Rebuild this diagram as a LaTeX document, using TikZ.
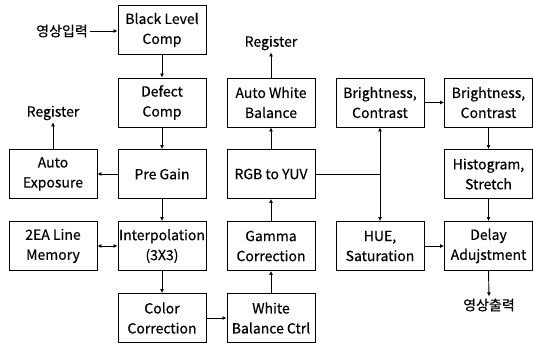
\documentclass[tikz,border=0pt]{standalone}
\usepackage{fontspec}
\setmainfont{Noto Sans CJK KR}[FakeBold=0.4]
\usetikzlibrary{arrows.meta}
\begin{document}
\begin{tikzpicture}[x=1pt,y=-1pt,
  box/.style={draw, line width=0.9pt, minimum width=88pt, minimum height=49pt, inner sep=0pt, align=center, font=\fontsize{14}{20}\selectfont},
  conn/.style={line width=0.9pt, -{Latex[length=4pt,width=4pt]}},
  dconn/.style={line width=0.9pt, {Latex[length=4pt,width=4pt]}-{Latex[length=4pt,width=4pt]}},
  plain/.style={line width=0.9pt},
  lbl/.style={font=\fontsize{14}{16}\selectfont, inner sep=2pt}]
\useasboundingbox (0,0) rectangle (533,343);
\node[box] (blc) at (162,30) {Black Level\\Comp};
\node[box] (dc) at (162,102.5) {Defect\\Comp};
\node[box] (pg) at (162,174) {Pre Gain};
\node[box] (ip) at (162,246) {Interpolation\\(3X3)};
\node[box] (cc) at (162,318) {Color\\Correction};
\node[box] (ae) at (53,174) {Auto\\Exposure};
\node[box] (lm) at (53,246) {2EA Line\\Memory};
\node[box] (awb) at (271,102.5) {Auto White\\Balance};
\node[box] (rgb) at (271,174) {RGB to YUV};
\node[box] (gc) at (271,246) {Gamma\\Correction};
\node[box] (wb) at (271,318) {White\\Balance Ctrl};
\node[box] (bc1) at (380,102.5) {Brightness,\\Contrast};
\node[box] (hue) at (380,246) {HUE,\\Saturation};
\node[box] (bc2) at (488.5,102.5) {Brightness,\\Contrast};
\node[box] (hs) at (488.5,174) {Histogram,\\Stretch};
\node[box] (da) at (488.5,246) {Delay\\Adujstment};
\node[lbl] (in) at (62,31) {영상입력};
\node[lbl] (out) at (489,305) {영상출력};
\node[lbl] (reg1) at (53,113) {Register};
\node[lbl] (reg2) at (271,43) {Register};
\coordinate (j) at (380,174);
\draw[conn] (in.east) -- (in.east -| blc.west);
\draw[conn] (blc) -- (dc);
\draw[conn] (dc) -- (pg);
\draw[conn] (pg) -- (ae);
\draw[conn] (ae.north) -- (reg1.south);
\draw[conn] (pg) -- (ip);
\draw[dconn] (lm) -- (ip);
\draw[conn] (ip) -- (cc);
\draw[conn] (cc) -- (wb);
\draw[conn] (wb) -- (gc);
\draw[conn] (gc) -- (rgb);
\draw[conn] (rgb) -- (awb);
\draw[conn] (awb.north) -- (reg2.south);
\draw[plain] (rgb.east) -- (j);
\draw[conn] (j) -- (bc1.south);
\draw[conn] (j) -- (hue.north);
\draw[conn] (bc1) -- (bc2);
\draw[conn] (bc2) -- (hs);
\draw[conn] (hs) -- (da);
\draw[conn] (hue) -- (da);
\draw[conn] (da.south) -- (out.north);
\end{tikzpicture}
\end{document}
